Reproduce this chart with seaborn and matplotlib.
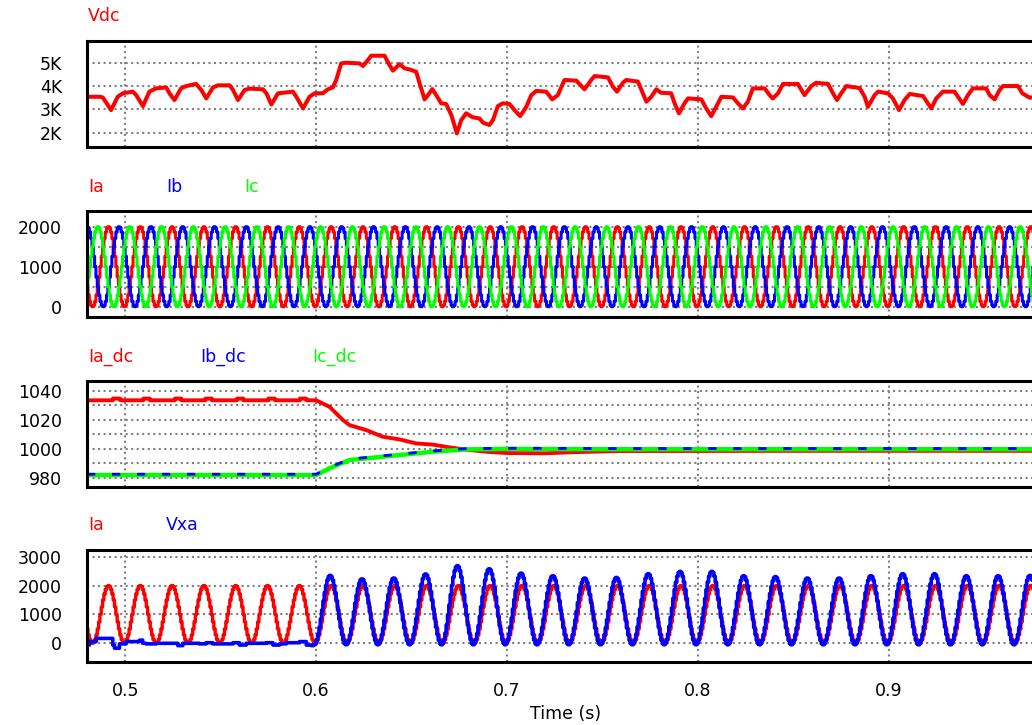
import numpy as np
import pandas as pd
import matplotlib
matplotlib.use("Agg")
import matplotlib.pyplot as plt
from matplotlib.ticker import FixedLocator, MultipleLocator
import seaborn as sns

# ---------------- data ----------------
# DC-link voltage Vdc (V), traced as breakpoints
vdc_t = [0.4800, 0.4865, 0.4883, 0.4926, 0.4961, 0.4988, 0.5040, 0.5058, 0.5093, 0.5127,
         0.5162, 0.5215, 0.5232, 0.5258, 0.5293, 0.5320, 0.5372, 0.5399, 0.5425, 0.5460,
         0.5486, 0.5548, 0.5565, 0.5591, 0.5626, 0.5652, 0.5722, 0.5740, 0.5766, 0.5801,
         0.5827, 0.5879, 0.5897, 0.5932, 0.5966, 0.5993, 0.6036, 0.6062, 0.6088, 0.6106,
         0.6132, 0.6158, 0.6228, 0.6246, 0.6272, 0.6289, 0.6359, 0.6385, 0.6403, 0.6438,
         0.6464, 0.6499, 0.6525, 0.6543, 0.6569, 0.6587, 0.6609, 0.6630, 0.6656, 0.6682,
         0.6709, 0.6738, 0.6761, 0.6787, 0.6822, 0.6857, 0.6875, 0.6909, 0.6927, 0.6953,
         0.6979, 0.7014, 0.7040, 0.7070, 0.7102, 0.7128, 0.7154, 0.7206, 0.7238, 0.7267,
         0.7302, 0.7364, 0.7407, 0.7442, 0.7460, 0.7530, 0.7556, 0.7577, 0.7608, 0.7626,
         0.7687, 0.7704, 0.7731, 0.7757, 0.7783, 0.7809, 0.7861, 0.7879, 0.7902, 0.7931,
         0.7949, 0.8019, 0.8045, 0.8071, 0.8097, 0.8124, 0.8185, 0.8211, 0.8237, 0.8263,
         0.8289, 0.8351, 0.8377, 0.8394, 0.8421, 0.8447, 0.8525, 0.8560, 0.8595, 0.8621,
         0.8683, 0.8709, 0.8730, 0.8752, 0.8779, 0.8849, 0.8875, 0.8892, 0.8927, 0.8945,
         0.8997, 0.9023, 0.9055, 0.9084, 0.9111, 0.9181, 0.9224, 0.9250, 0.9285, 0.9346,
         0.9390, 0.9416, 0.9442, 0.9512, 0.9530, 0.9556, 0.9582, 0.9600, 0.9678, 0.9701,
         0.9740, 0.9820]
vdc = [3540, 3540, 3510, 2970, 3540, 3690, 3760, 3610, 3140, 3760,
       3900, 3940, 3690, 3400, 3900, 4000, 4090, 3830, 3470, 3940,
       4030, 4030, 3830, 3400, 3830, 3890, 3860, 3690, 3210, 3690,
       3710, 3760, 3540, 3040, 3540, 3690, 3690, 3860, 3940, 4260,
       4970, 5000, 4970, 4860, 5110, 5300, 5300, 4900, 4660, 4940,
       4760, 4690, 4610, 4110, 3430, 3610, 3870, 3610, 3260, 3230,
       2760, 1970, 2540, 2830, 2660, 2610, 2430, 2330, 2540, 3140,
       3260, 3230, 2970, 2710, 3110, 3610, 3790, 3760, 3430, 3610,
       4260, 4230, 3860, 4260, 4430, 4370, 3970, 3760, 4140, 4260,
       4190, 3860, 3330, 3540, 3860, 3710, 3690, 3260, 2830, 3260,
       3470, 3430, 3040, 2710, 3110, 3540, 3510, 3260, 3040, 3330,
       3900, 3900, 3610, 3470, 3690, 4090, 4090, 3610, 4000, 4140,
       4090, 3690, 3400, 3690, 4000, 3910, 3540, 3110, 3610, 3760,
       3690, 3470, 2970, 3400, 3660, 3570, 3040, 3470, 3760, 3760,
       3230, 3610, 3900, 3900, 3610, 3430, 3830, 4000, 4000, 3690,
       3500, 3600]

# One period of the sampled phase current (A), starting at its minimum
ia_cycle = [0, 34, 134, 293, 500, 741, 1000, 1259, 1500, 1707, 1866, 1966,
            2000, 1966, 1866, 1707, 1500, 1259, 1000, 741, 500, 293, 134, 34]
line_freq = 60.0          # Hz
ia_first_min = 0.4826     # s, first minimum of Ia in view

# Per-phase DC current components (A)
ia_dc_t = [0.4800, 0.4935, 0.4936, 0.4974, 0.4975, 0.5095, 0.5096, 0.5129, 0.5130,
           0.5260, 0.5261, 0.5294, 0.5295, 0.5420, 0.5421, 0.5454, 0.5455,
           0.5585, 0.5586, 0.5619, 0.5620, 0.5750, 0.5751, 0.5784, 0.5785,
           0.5915, 0.5916, 0.5949, 0.5950,
           0.6001, 0.6071, 0.6141, 0.6176, 0.6263, 0.6350, 0.6437, 0.6525, 0.6612,
           0.6699, 0.6787, 0.6900, 0.7000, 0.7200, 0.7350, 0.7600, 0.8000, 0.8500,
           0.9000, 0.9500, 0.9820]
ia_dc = [1033.5, 1033.5, 1034.7, 1034.7, 1033.5, 1033.5, 1034.7, 1034.7, 1033.5,
         1033.5, 1034.7, 1034.7, 1033.5, 1033.5, 1034.7, 1034.7, 1033.5,
         1033.5, 1034.7, 1034.7, 1033.5, 1033.5, 1034.7, 1034.7, 1033.5,
         1033.5, 1034.7, 1034.7, 1033.5,
         1033.5, 1029.0, 1019.9, 1016.4, 1013.0, 1008.4, 1006.6, 1003.8, 1003.0,
         1001.1, 999.5, 998.0, 997.2, 997.0, 997.8, 998.6, 998.6, 998.7,
         998.7, 998.7, 998.7]
ibc_dc_t = [0.480, 0.6001, 0.6071, 0.6176, 0.6263, 0.6437, 0.6612, 0.6787, 0.700, 0.750, 0.850, 0.982]
ic_dc = [982.0, 982.0, 986.7, 992.4, 993.5, 995.8, 998.1, 999.7, 1000.0, 999.8, 999.8, 999.8]
ib_dc = [982.6, 982.6, 987.3, 993.0, 994.1, 996.4, 998.6, 1000.2, 1000.5, 1000.3, 1000.3, 1000.3]

# Vxa before compensation starts (V)
vxa_pre_t = [0.4799, 0.4813, 0.4848, 0.4918, 0.4935, 0.4944, 0.4970, 0.5005, 0.5057, 0.5075,
             0.5092, 0.5110, 0.5162, 0.5250, 0.5276, 0.5302, 0.5389, 0.5424, 0.5459, 0.5564,
             0.5599, 0.5634, 0.5739, 0.5774, 0.5809, 0.5844, 0.5914, 0.5931, 0.5949, 0.5975]
vxa_pre = [-60, 60, 170, 170, -60, -170, -20, 60, 60, 110,
           0, -20, 0, 0, -80, 0, -20, 20, -20, 20,
           -60, 0, 20, -60, -20, 20, 60, 60, -60, -80]
# Vxa peak value of each cycle once it follows Ia (cycles 7 onward)
vxa_first_cycle = 7
vxa_peaks = [2350, 2230, 2260, 2400, 2690, 2580, 2430, 2340, 2260, 2280, 2410, 2490,
             2490, 2340, 2310, 2260, 2260, 2340, 2410, 2410, 2340, 2340, 2350]
vxa_floor = -50
vxa_lead = 0.0005

t_start, t_end = 0.48, 0.982

# ---------------- derived sampled waveforms ----------------
n_step = len(ia_cycle)
step = 1.0 / line_freq / n_step
cyc = np.array(ia_cycle, dtype=float)
k = np.arange(-5, int((t_end - ia_first_min) / step) + 3)
t_s = ia_first_min + k * step
ia = cyc[k % n_step]
ib = cyc[(k - n_step // 3) % n_step]
ic = cyc[(k + n_step // 3) % n_step]

kk = k[k >= vxa_first_cycle * n_step]
cyc_idx = np.minimum(kk // n_step - vxa_first_cycle, len(vxa_peaks) - 1)
pk = np.array(vxa_peaks, dtype=float)[cyc_idx]
vxa_follow = vxa_floor + (pk - vxa_floor) * cyc[kk % n_step] / cyc.max()
t_follow = ia_first_min + kk * step - vxa_lead
vxa_t = np.concatenate([vxa_pre_t, t_follow])
vxa = np.concatenate([vxa_pre, vxa_follow])

# ---------------- styling ----------------
sns.set_theme(style="white")
plt.rcParams["font.family"] = ["DejaVu Sans"]
FS = 12.5
RED, BLUE, GREEN = "#ff0000", "#0000ff", "#00ff00"

fig = plt.figure(figsize=(10.32, 7.25), dpi=100)
W, H = 1032, 725
left_px, right_px = 87, 1045
panels_px = [(40.7, 146.7), (210.7, 316.7), (380.7, 486.7), (550.0, 662.3)]
axes = []
for top, bot in panels_px:
    ax = fig.add_axes([left_px / W, 1 - bot / H, (right_px - left_px) / W, (bot - top) / H])
    axes.append(ax)


def style_axis(ax, ylim, yticks, ylabels, minor=None, show_x=False):
    ax.set_xlim(t_start, t_end)
    ax.set_ylim(*ylim)
    ax.xaxis.set_major_locator(FixedLocator([0.5, 0.6, 0.7, 0.8, 0.9]))
    ax.yaxis.set_major_locator(FixedLocator(yticks))
    ax.set_yticklabels(ylabels)
    if minor is not None:
        ax.yaxis.set_minor_locator(MultipleLocator(minor))
        ax.grid(True, which="minor", axis="y", color="#808080", linestyle=":", linewidth=1.5)
    ax.grid(True, which="major", color="#808080", linestyle=":", linewidth=1.5)
    ax.tick_params(axis="y", which="both", length=0, pad=18, labelsize=FS, labelcolor="black")
    ax.tick_params(axis="x", which="both", length=0, pad=14, labelsize=FS, labelcolor="black")
    if show_x:
        ax.set_xticklabels(["0.5", "0.6", "0.7", "0.8", "0.9"])
    else:
        ax.set_xticklabels([])
    for side in ("top", "bottom", "left"):
        ax.spines[side].set_visible(True)
        ax.spines[side].set_color("black")
        ax.spines[side].set_linewidth(2.2)
    ax.spines["right"].set_visible(False)
    ax.set_xlabel("")
    ax.set_ylabel("")
    ax.set_axisbelow(True)


def series_labels(ax, items, dy=25):
    for name, color, dx in items:
        ax.annotate(name, xy=(0, 1), xycoords="axes fraction", xytext=(dx, dy),
                    textcoords="offset pixels", color=color, ha="left", va="center",
                    fontsize=FS)


def trace(ax, x, y, color, lw=2.6, **kw):
    sns.lineplot(x=np.asarray(x), y=np.asarray(y), ax=ax, color=color, linewidth=lw,
                 estimator=None, errorbar=None, legend=False, sort=False, **kw)


# Panel 1: Vdc
ax = axes[0]
trace(ax, vdc_t, vdc, RED, lw=2.9)
style_axis(ax, (1400, 5943), [2000, 3000, 4000, 5000], ["2K", "3K", "4K", "5K"])
series_labels(ax, [("Vdc", RED, 1)])

# Panel 2: three-phase currents
ax = axes[1]
trace(ax, t_s, ia, RED, lw=2.2, drawstyle="steps-post")
trace(ax, t_s, ib, BLUE, lw=2.2, drawstyle="steps-post")
trace(ax, t_s, ic, GREEN, lw=2.2, drawstyle="steps-post")
style_axis(ax, (-250, 2400), [0, 1000, 2000], ["0", "1000", "2000"], minor=500)
series_labels(ax, [("Ia", RED, 1), ("Ib", BLUE, 79), ("Ic", GREEN, 157)], dy=24)

# Panel 3: DC components
ax = axes[2]
trace(ax, ia_dc_t, ia_dc, RED, lw=2.8)
trace(ax, ibc_dc_t, ic_dc, GREEN, lw=3.2)
trace(ax, ibc_dc_t, ib_dc, BLUE, lw=2.0, linestyle=(0, (3, 6)))
style_axis(ax, (974, 1047), [980, 1000, 1020, 1040], ["980", "1000", "1020", "1040"], minor=10)
series_labels(ax, [("Ia_dc", RED, 1), ("Ib_dc", BLUE, 113), ("Ic_dc", GREEN, 225)], dy=24)

# Panel 4: Ia and Vxa
ax = axes[3]
trace(ax, t_s, ia, RED, lw=2.4, drawstyle="steps-post")
trace(ax, vxa_t, vxa, BLUE, lw=2.6, drawstyle="steps-post")
style_axis(ax, (-658, 3232), [0, 1000, 2000, 3000], ["0", "1000", "2000", "3000"], show_x=True)
series_labels(ax, [("Ia", RED, 1), ("Vxa", BLUE, 79)])
ax.set_xlabel("Time (s)", fontsize=FS, color="black", labelpad=4)

fig.savefig("out.png", dpi=100, facecolor="white")
